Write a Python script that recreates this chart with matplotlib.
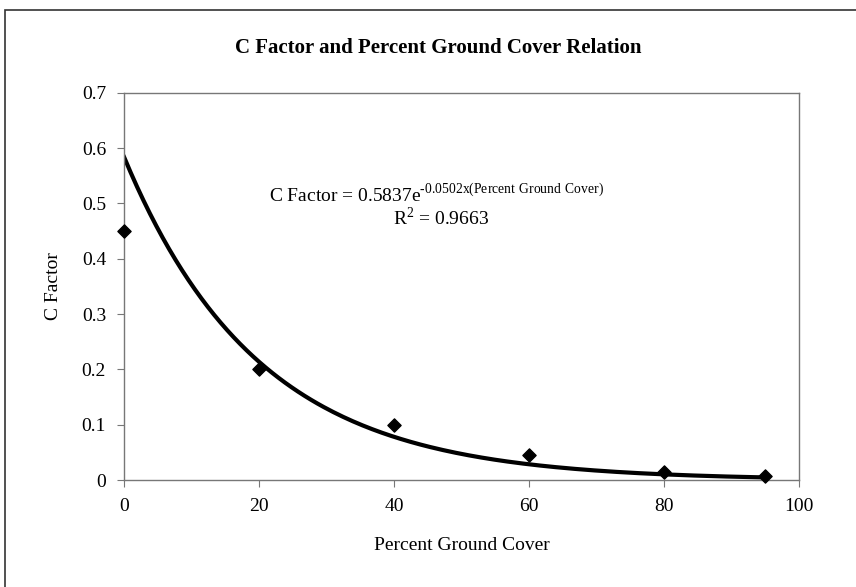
import numpy as np
import matplotlib.pyplot as plt
from matplotlib.patches import Rectangle

plt.rcParams['font.family'] = ['Liberation Serif', 'DejaVu Serif']
plt.rcParams['mathtext.fontset'] = 'custom'
plt.rcParams['mathtext.rm'] = 'Liberation Serif'

# observed points
ground_cover = [0, 20, 40, 60, 80, 95]
c_factor = [0.45, 0.20, 0.10, 0.045, 0.015, 0.007]

# exponential trendline coefficients, as printed on the chart
coef_a = 0.5837
coef_b = -0.0502
r_squared = 0.9663

fig = plt.figure(figsize=(8.56, 5.87), dpi=100)
ax = fig.add_axes([0.145, 0.182, 0.788, 0.660])

xs = np.linspace(min(ground_cover), max(ground_cover), 200)
ax.plot(xs, coef_a * np.exp(coef_b * xs), color='black', lw=3, zorder=2)
ax.scatter(ground_cover, c_factor, marker='D', s=45, color='black', zorder=3, clip_on=False)

ax.set_xlim(0, 100)
ax.set_ylim(0, 0.7)
ax.set_xticks([0, 20, 40, 60, 80, 100])
ax.set_yticks(np.arange(0, 0.71, 0.1))
ax.set_yticklabels(['0', '0.1', '0.2', '0.3', '0.4', '0.5', '0.6', '0.7'])
ax.tick_params(axis='both', labelsize=14, length=5, width=0.8, color='#777777', pad=8)

for sp in ax.spines.values():
    sp.set_color('#777777')
    sp.set_linewidth(1.0)

ax.set_xlabel('Percent Ground Cover', fontsize=14, labelpad=16)
ax.set_ylabel('C Factor', fontsize=14, labelpad=14)

fig.text(0.512, 0.918, 'C Factor and Percent Ground Cover Relation',
         ha='center', va='center', fontsize=15, fontweight='bold')

exp_str = ('%.4f' % coef_b).replace('-', '\u2010')
ax.text(0.215, 0.739,
        r'C Factor = %.4fe$^{\mathregular{%sx(Percent\ Ground\ Cover)}}$' % (coef_a, exp_str),
        transform=ax.transAxes, fontsize=14, ha='left', va='center')
ax.text(0.47, 0.677, r'R$^{\mathregular{2}}$ = %.4f' % r_squared,
        transform=ax.transAxes, fontsize=14, ha='center', va='center')

# outer chart frame
fig.patches.append(Rectangle((0.006, -0.01), 1.0, 0.993, transform=fig.transFigure,
                             fill=False, edgecolor='#333333', lw=1.2))

fig.savefig('out.png', dpi=100)
